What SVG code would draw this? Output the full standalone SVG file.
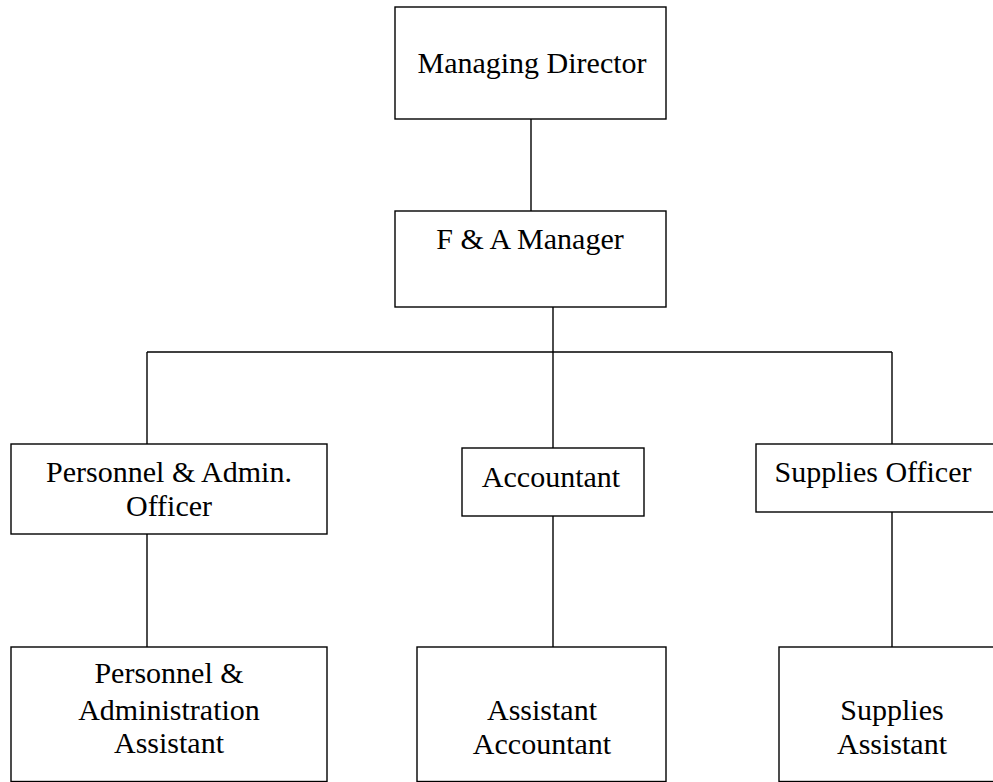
<svg xmlns="http://www.w3.org/2000/svg" width="993" height="782" viewBox="0 0 993 782">
<style>
.box{fill:#fff;stroke:#000;stroke-width:1.4}
.con{fill:none;stroke:#000;stroke-width:1.4}
text{font-family:"Liberation Serif","Times New Roman",serif;font-size:30px;fill:#000;text-anchor:middle}
</style>
<rect width="993" height="782" fill="#fff"/>
<g id="connectors">
<line class="con" x1="531" y1="119" x2="531" y2="211"/>
<line class="con" x1="553" y1="307" x2="553" y2="352"/>
<line class="con" x1="147" y1="352" x2="892" y2="352"/>
<line class="con" x1="147" y1="352" x2="147" y2="444"/>
<line class="con" x1="553" y1="352" x2="553" y2="448"/>
<line class="con" x1="892" y1="352" x2="892" y2="444"/>
<line class="con" x1="147" y1="534" x2="147" y2="647"/>
<line class="con" x1="553" y1="516" x2="553" y2="647"/>
<line class="con" x1="892" y1="512" x2="892" y2="647"/>
</g>
<g id="managing-director">
<rect class="box" x="395" y="7" width="271" height="112"/>
<text x="532" y="73">Managing Director</text>
</g>
<g id="fa-manager">
<rect class="box" x="395" y="211" width="271" height="96"/>
<text x="530" y="249">F &amp; A Manager</text>
</g>
<g id="personnel-admin-officer">
<rect class="box" x="11" y="444" width="316" height="90"/>
<text x="169" y="482">Personnel &amp; Admin.</text>
<text x="169" y="516">Officer</text>
</g>
<g id="accountant">
<rect class="box" x="462" y="448" width="182" height="68"/>
<text x="551" y="487">Accountant</text>
</g>
<g id="supplies-officer">
<rect class="box" x="756" y="444" width="250" height="68"/>
<text x="873" y="482">Supplies Officer</text>
</g>
<g id="personnel-admin-assistant">
<rect class="box" x="11" y="647" width="316" height="134.5"/>
<text x="169" y="683">Personnel &amp;</text>
<text x="169" y="720">Administration</text>
<text x="169" y="753">Assistant</text>
</g>
<g id="assistant-accountant">
<rect class="box" x="417" y="647" width="249" height="134.5"/>
<text x="542" y="720">Assistant</text>
<text x="542" y="754">Accountant</text>
</g>
<g id="supplies-assistant">
<rect class="box" x="779" y="647" width="230" height="134.5"/>
<text x="892" y="720">Supplies</text>
<text x="892" y="754">Assistant</text>
</g>
</svg>
